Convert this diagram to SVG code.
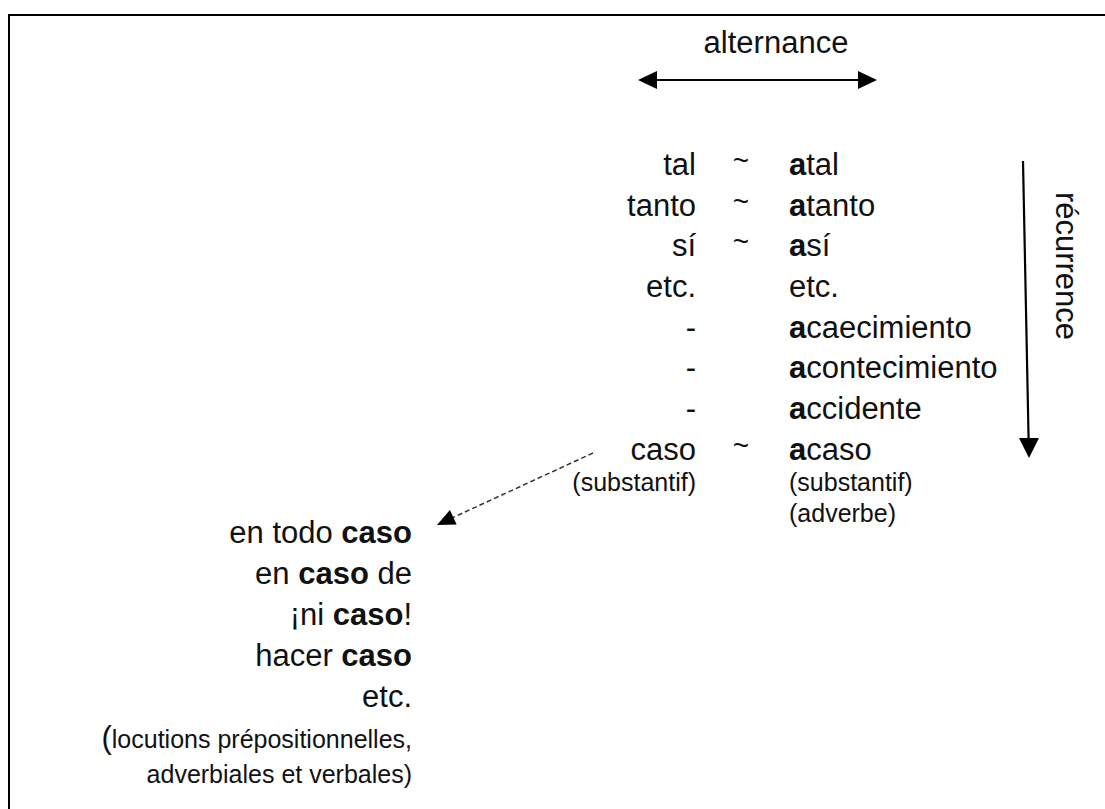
<svg xmlns="http://www.w3.org/2000/svg" width="1105" height="809" viewBox="0 0 1105 809">
<style>
text{font-family:"Liberation Sans",Arial,sans-serif;fill:#111;}
.m{font-size:31px;}
.s{font-size:25px;}
.l{text-anchor:end;}
.t{text-anchor:middle;font-size:28px;}
.b{font-weight:bold;}
.ln{stroke:#000;stroke-width:2.2;fill:none;}
.dash{stroke:#333;stroke-width:1.5;stroke-dasharray:5 3;fill:none;}
</style>
<rect width="1105" height="809" fill="#fff"/>
<path d="M9,809 V15 H1105" stroke="#000" stroke-width="2" fill="none"/>
<g id="connectors">
  <g id="alternance-arrow">
    <line class="ln" x1="655" y1="80" x2="860" y2="80"/>
    <polygon points="638,80 657,71 657,89" fill="#000"/>
    <polygon points="877,80 858,71 858,89" fill="#000"/>
  </g>
  <g id="recurrence-arrow">
    <line class="ln" x1="1023" y1="161" x2="1028.6" y2="440"/>
    <polygon points="1029,458 1019,438 1039,438" fill="#000"/>
  </g>
  <g id="caso-arrow">
    <line class="dash" x1="593" y1="453" x2="453" y2="517.5"/>
    <polygon points="437,525 456.7,524.5 449.9,510.1" fill="#000"/>
  </g>
</g>
<g id="label-alternance"><text class="m" x="776" y="53" text-anchor="middle">alternance</text></g>
<g id="label-recurrence"><text class="m" transform="translate(1056,266) rotate(90)" text-anchor="middle">récurrence</text></g>
<g id="table">
  <g id="row-tal"><text class="m l" x="696" y="175">tal</text><text class="t" x="741" y="170">~</text><text class="m" x="789" y="175"><tspan class="b">a</tspan>tal</text></g>
  <g id="row-tanto"><text class="m l" x="696" y="216">tanto</text><text class="t" x="741" y="211">~</text><text class="m" x="789" y="216"><tspan class="b">a</tspan>tanto</text></g>
  <g id="row-si"><text class="m l" x="696" y="256">sí</text><text class="t" x="741" y="251">~</text><text class="m" x="789" y="256"><tspan class="b">a</tspan>sí</text></g>
  <g id="row-etc"><text class="m l" x="696" y="297">etc.</text><text class="m" x="789" y="297">etc.</text></g>
  <g id="row-acaecimiento"><text class="m l" x="696" y="338">-</text><text class="m" x="789" y="338"><tspan class="b">a</tspan>caecimiento</text></g>
  <g id="row-acontecimiento"><text class="m l" x="696" y="378">-</text><text class="m" x="789" y="378"><tspan class="b">a</tspan>contecimiento</text></g>
  <g id="row-accidente"><text class="m l" x="696" y="419">-</text><text class="m" x="789" y="419"><tspan class="b">a</tspan>ccidente</text></g>
  <g id="row-caso"><text class="m l" x="696" y="460">caso</text><text class="t" x="741" y="455">~</text><text class="m" x="789" y="460"><tspan class="b">a</tspan>caso</text></g>
  <g id="row-pos"><text class="s l" x="696" y="491">(substantif)</text><text class="s" x="789" y="491">(substantif)</text><text class="s" x="789" y="522">(adverbe)</text></g>
</g>
<g id="locutions">
  <text class="m l" x="412" y="543">en todo <tspan class="b">caso</tspan></text>
  <text class="m l" x="412" y="584">en <tspan class="b">caso</tspan> de</text>
  <text class="m l" x="412" y="625">¡ni <tspan class="b">caso</tspan>!</text>
  <text class="m l" x="412" y="666">hacer <tspan class="b">caso</tspan></text>
  <text class="m l" x="412" y="707">etc.</text>
  <text class="s l" x="412" y="748"><tspan class="m">(</tspan>locutions prépositionnelles,</text>
  <text class="s l" x="412" y="783">adverbiales et verbales)</text>
</g>
</svg>
